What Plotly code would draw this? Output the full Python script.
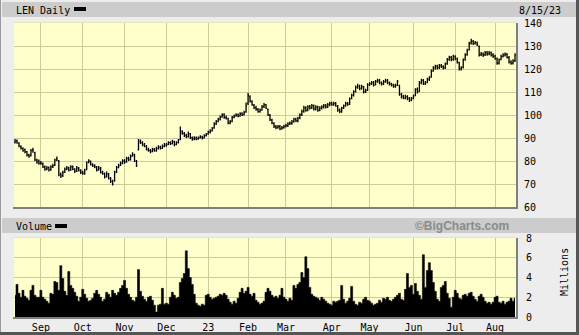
import plotly.graph_objects as go
import pandas as pd

# ---------------- data ----------------
holidays = ["2022-09-05", "2022-11-24", "2022-12-26", "2023-01-02", "2023-01-16",
            "2023-02-20", "2023-04-07", "2023-05-29", "2023-06-19", "2023-07-04"]
dates = pd.bdate_range("2022-08-15", "2023-08-15", freq="C", holidays=holidays)

close = [
    # Aug
    88.5, 88, 86.5, 85.5, 84.5, 84, 82.5, 82, 84.5, 84.8, 80.5, 79.5, 79,
    # Sep
    79, 77.5, 76.5, 77, 76, 77.5, 78, 80.5, 81, 74, 73.5, 75, 76.5, 77, 76, 77.5, 76.5, 75.5, 77, 76, 75,
    # Oct
    74.5, 76, 79.5, 80, 78.5, 78, 77.5, 76, 77, 75, 74.5, 73, 74.5, 72.5, 71, 70, 75, 77, 78, 79, 80,
    # Nov
    79.5, 81, 80.5, 82, 83, 80, 78, 88.5, 88, 87, 86.5, 85, 84.5, 84, 85, 84.5, 85.5, 86, 85.5, 86.5, 87,
    # Dec
    87, 88, 87.5, 88.5, 87, 88, 89, 93, 92, 91, 90.5, 92, 90, 89.5, 90, 89.5, 90, 90.5, 90, 91, 91.5,
    # Jan
    92.5, 93, 94, 96, 97, 98, 99, 100, 99, 98.5, 96.5, 97, 99, 99.5, 100, 99.5, 100.5, 100, 101, 104,
    # Feb
    108.5, 106, 104.5, 103, 102.5, 101.5, 102, 103.5, 104.5, 103, 100, 98, 96.5, 95, 94.5, 95, 94, 94.5, 95,
    # Mar
    95.5, 96, 96.5, 97, 98, 97.5, 98.5, 100, 101.5, 103, 102, 103.5, 103, 104, 102.5, 103.5, 102, 103, 103.5, 104, 103.5, 104.5, 105,
    # Apr
    104.5, 105, 104, 102, 101.5, 103, 104, 105, 104.5, 107, 108.5, 110, 112, 112.5, 111.5, 112.5, 110, 110.5, 113,
    # May
    113.5, 114, 113, 114.5, 115, 114, 113.5, 114.5, 115, 114, 113.5, 113, 112.5, 113, 114.5, 109, 108, 107.5, 108, 107, 106.5, 107,
    # Jun
    108, 111, 110, 114, 115, 113.5, 114, 115.5, 116, 119, 120.5, 121, 120.5, 121.5, 121, 120.5, 122, 124, 125, 124, 125.5,
    # Jul
    124.5, 123, 120, 120.5, 124, 126, 128, 131, 132, 131, 131.5, 130.5, 126, 126.5, 126, 127, 126.5, 127, 126, 125.5,
    # Aug
    124.5, 122.5, 124, 125.5, 126, 126.5, 125, 123, 122.5, 123.5, 126,
]

open_ = [
    88, 88.8, 87.8, 86.2, 85.4, 84.8, 84, 82.6, 82.4, 84.6, 83.5, 80.4, 79.8,
    79.2, 78.8, 77.4, 76.6, 77.2, 76.2, 77.4, 78.2, 80.4, 80, 74.2, 73.6, 75.2, 76.4, 77, 76.2, 77.4, 76.4, 75.6, 76.8, 75.8,
    75, 74.6, 76.4, 79.4, 79.6, 78.4, 78, 77.4, 76.2, 76.8, 75, 74.4, 73.2, 74.2, 72.4, 71.2, 71.5, 75.4, 77.2, 78.2, 79,
    80.2, 79.6, 81.2, 80.6, 82.2, 82.6, 79.8, 85, 88.6, 88, 87.2, 86.4, 85, 84.6, 84.2, 85, 84.6, 85.4, 86, 85.6, 86.4,
    86.8, 87.2, 88, 87.6, 88.4, 87.2, 88, 89.4, 92.6, 92, 91.2, 90.6, 91.8, 90.2, 89.6, 90, 89.6, 90.2, 90.4, 90.2, 91,
    91.8, 92.6, 93.2, 94.4, 96.2, 97.2, 98.2, 99.2, 100.2, 99, 98.4, 96.6, 97.2, 99, 99.6, 100, 99.6, 100.6, 100.2, 101.4,
    105, 108, 105.8, 104.2, 103.2, 102.4, 101.6, 102.2, 103.6, 104.4, 102.4, 99.8, 97.8, 96.4, 95, 94.6, 95, 94.2, 94.6,
    95.2, 95.4, 96.2, 96.4, 97.2, 98.2, 97.4, 98.8, 100.2, 101.6, 103.2, 102.2, 103.6, 103.2, 104, 102.6, 103.4, 102.2, 103, 103.4, 104.2, 103.4, 104.4,
    105.2, 104.4, 105, 103.8, 102.2, 101.6, 103, 104, 105, 104.8, 107.2, 108.6, 110.2, 112, 112.6, 111.6, 112, 110.2, 110.8,
    113.2, 113.6, 114.2, 113.2, 114.6, 115, 114, 113.6, 114.4, 115, 114.2, 113.4, 113, 112.4, 113, 112.8, 109, 108.2, 107.4, 108, 107.2, 106.4,
    107.2, 108.6, 111.2, 110.4, 114, 115, 113.6, 114.2, 115.4, 116.6, 119.2, 120.4, 121.2, 120.6, 121.6, 121, 120.6, 122.4, 124.2, 125, 124.2,
    125.4, 124.4, 122.6, 120.2, 120.8, 124.2, 126.2, 128.4, 131.2, 132, 131.2, 131.4, 129.8, 126.2, 126.6, 126.2, 127, 126.6, 127, 126.2,
    125.6, 124.4, 122.6, 124.2, 125.4, 126, 126.4, 125, 123, 122.6, 123.6,
]

high = [
    89.6, 89.4, 88.2, 86.8, 86, 85.4, 84.4, 83.2, 85.2, 85.8, 84, 81, 80.6,
    80, 79.4, 78, 77.8, 77.6, 78.2, 78.8, 81, 82, 80.4, 75, 75.8, 77.2, 77.8, 77.5, 78.2, 78, 76.8, 77.8, 77.4, 76.4,
    75.8, 76.6, 79.8, 80.8, 80.2, 79, 78.6, 77.8, 77.8, 77.4, 75.8, 75, 75.4, 74.8, 73, 71.8, 75.8, 77.8, 78.8, 79.8, 80.8,
    80.8, 81.8, 81.8, 82.8, 83.8, 83.2, 80.4, 89.6, 89.4, 88.6, 87.8, 87, 85.8, 85.2, 85.8, 85.6, 86.2, 86.8, 86.6, 87.2, 87.8,
    87.8, 88.6, 88.6, 89.2, 88.8, 88.6, 89.6, 95, 93.4, 92.6, 91.8, 92.8, 92.2, 90.6, 90.8, 90.6, 90.6, 91.2, 91, 91.6, 92.2,
    93.2, 93.8, 94.8, 96.8, 97.8, 98.8, 99.8, 100.8, 100.8, 99.8, 98.8, 97.8, 99.6, 100.2, 100.8, 100.6, 101.2, 101.2, 101.8, 105.4,
    109.6, 108.6, 106.4, 104.8, 104, 103, 102.8, 104.4, 105.2, 104.8, 102.8, 100.4, 98.4, 96.8, 95.6, 95.6, 95.6, 95.2, 95.8,
    96.2, 96.8, 97.2, 97.8, 98.8, 98.8, 99.2, 100.8, 102.4, 104, 103.8, 104.2, 104.4, 104.8, 104.6, 104.2, 104, 103.8, 104.2, 104.8, 104.8, 105.2, 105.8,
    105.8, 105.8, 105.6, 104.4, 102.8, 103.6, 104.6, 105.8, 105.6, 107.6, 109.2, 110.8, 112.8, 113.6, 113.2, 113.2, 112.6, 111.4, 113.8,
    114.2, 114.8, 114.8, 115.2, 115.8, 115.6, 114.6, 115.2, 115.8, 115.6, 114.6, 114, 113.6, 113.6, 115.2, 113.2, 109.6, 108.8, 108.8, 108.6, 107.8, 107.8,
    108.8, 111.6, 112, 114.8, 115.8, 115.6, 114.8, 116.2, 116.8, 119.8, 121.2, 121.8, 121.8, 122.2, 122.2, 121.6, 122.8, 124.8, 125.8, 125.6, 126.2,
    126, 125, 123.2, 121.2, 124.6, 126.8, 128.8, 131.8, 133.2, 132.6, 132.2, 132, 130.2, 127.4, 127.2, 127.8, 127.8, 127.8, 127.6, 126.8,
    126.2, 125, 124.6, 126.2, 126.8, 127.2, 127, 125.6, 123.8, 124.2, 126.8,
]

low = [
    87.6, 87.5, 86, 85, 84, 83.4, 82, 81.4, 82, 83.6, 80, 78.8, 78.4,
    78.4, 77, 75.8, 76, 75.4, 75.8, 77, 77.8, 80, 73.4, 72.6, 73, 74.8, 76, 75.4, 75.8, 76, 74.8, 75.2, 75.4, 74.4,
    74, 74, 76, 79, 78, 77.4, 76.8, 75.4, 75.8, 74.6, 74, 72.4, 72.8, 72, 70.4, 69.4, 71, 74.8, 76.8, 77.8, 78.6,
    78.8, 79.2, 80, 80.2, 81.8, 79.6, 77.4, 84.6, 87.4, 86.4, 86, 84.6, 84, 83.4, 83.8, 84, 84, 85, 85, 85.2, 86,
    86.2, 86.8, 87, 87.2, 86.4, 86.8, 87.6, 89, 91.4, 90.4, 90, 90.2, 89.6, 88.8, 89, 89, 89.2, 89.8, 89.4, 89.8, 90.6,
    91.4, 92, 92.8, 94, 95.6, 96.8, 97.6, 98.8, 98.4, 98, 96, 96, 96.8, 98.6, 99.2, 99, 99.2, 99.6, 99.8, 101,
    104.4, 105.4, 104, 102.6, 101.8, 101, 101, 101.8, 103, 102.6, 99.6, 97.4, 96, 94.4, 93.8, 94, 93.4, 93.6, 94,
    94.6, 94.8, 95.6, 95.8, 96.6, 97, 96.8, 98.2, 99.6, 101, 101.4, 101.6, 102.4, 102.6, 102, 102, 101.4, 101.6, 102.4, 102.8, 102.8, 103, 103.8,
    104, 104, 103.6, 101.4, 100.8, 101, 102.6, 103.6, 104, 104.4, 106.8, 108, 109.8, 111.4, 110.8, 111, 109.4, 109.6, 110.4,
    112.6, 113, 112.4, 112.8, 114, 113.4, 112.8, 113, 114, 113.4, 112.8, 112.4, 111.8, 111.8, 112.6, 108.4, 107.2, 106.8, 106.8, 106.4, 105.6, 106,
    106.8, 108.2, 109.4, 110, 113.4, 113, 113, 113.8, 114.8, 116.2, 118.8, 119.8, 119.8, 120, 120.4, 119.8, 120, 121.8, 123.6, 123.4, 123.6,
    123.8, 122.4, 119.4, 119.4, 120.2, 123.6, 125.8, 128, 130.6, 130.4, 130.6, 130, 125.4, 125.6, 125.2, 125.6, 125.8, 126, 125.4, 124.8,
    124, 121.8, 122, 123.8, 125, 125.4, 124.6, 122.4, 121.8, 122, 123,
]

volume_m = [
    2.2, 3.3, 2.4, 2.0, 2.7, 2.1, 1.9, 1.7, 2.7, 3.2, 2.2, 2.0, 2.0,
    2.7, 2.0, 1.8, 1.6, 1.4, 2.4, 2.3, 3.6, 3.5, 2.7, 5.2, 3.9, 2.6, 2.2, 4.6, 3.2, 2.9, 2.5, 2.1, 1.6, 2.0,
    2.8, 2.3, 1.9, 1.6, 1.7, 1.9, 2.4, 2.7, 2.3, 2.0, 1.6, 1.8, 2.5, 2.3, 2.0, 2.7, 2.4, 2.2, 2.5, 2.9, 3.2,
    3.7, 2.9, 2.3, 2.0, 1.7, 1.6, 2.0, 4.8, 2.6, 2.1, 1.8, 1.6, 2.0, 2.1, 1.7, 1.2, 0.5, 1.2, 1.3, 2.9, 1.3,
    1.4, 1.3, 2.0, 2.5, 2.2, 1.9, 2.0, 3.5, 3.9, 4.4, 6.7, 4.9, 4.0, 3.3, 2.3, 1.4, 1.2, 1.1, 1.3, 1.2, 2.2,
    2.3, 2.0, 1.8, 1.9, 2.0, 2.1, 2.3, 2.2, 2.4, 2.2, 1.8, 1.5, 1.3, 1.6, 1.4, 1.9, 2.5, 2.9, 2.4, 2.6,
    3.0, 2.3, 2.1, 2.4, 1.7, 1.5, 1.3, 1.4, 1.6, 2.5, 2.9, 2.6, 2.2, 2.0, 2.1, 1.9, 2.2, 2.9, 2.0,
    1.8, 1.6, 1.9, 1.7, 3.2, 2.9, 3.3, 3.5, 4.5, 4.0, 6.1, 4.9, 3.0, 2.3, 2.1, 2.0, 1.9, 1.7, 2.0, 1.8, 1.6, 1.4, 1.3,
    1.2, 1.6, 1.5, 1.6, 1.7, 3.2, 1.8, 1.4, 1.6, 1.9, 3.1, 1.6, 1.3, 1.2, 1.5, 1.4, 1.8, 2.0, 1.7,
    1.6, 1.4, 1.2, 1.3, 1.4, 1.7, 1.5, 1.9, 1.8, 2.0, 1.7, 1.6, 1.8, 2.0, 2.2, 2.4, 1.8, 1.7, 2.8, 4.4, 3.0, 3.2,
    2.3, 3.4, 2.6, 2.2, 1.8, 6.3, 3.0, 4.7, 5.5, 4.7, 3.5, 2.6, 1.8, 1.6, 3.0, 3.2, 3.6, 2.4, 1.9, 1.0, 2.0,
    2.7, 2.4, 1.9, 1.8, 2.2, 2.3, 2.1, 2.4, 2.5, 2.1, 1.8, 1.6, 2.1, 2.3, 2.0, 1.6, 1.4, 1.5, 1.3, 1.5,
    2.0, 2.1, 1.5, 1.4, 1.6, 1.3, 1.5, 1.6, 1.9, 1.6, 1.9,
]

price_ticks = [60, 70, 80, 90, 100, 110, 120, 130, 140]
volume_ticks = [0, 2, 4, 6, 8]

n = len(dates)
assert len(close) == n and len(open_) == n and len(high) == n and len(low) == n and len(volume_m) == n

pos = list(range(n))
month_idx = [i for i in range(1, n) if dates[i].month != dates[i - 1].month]
month_txt = ["23" if dates[i].month == 1 else dates[i].strftime("%b") for i in month_idx]

# ---------------- geometry (pixels) ----------------
W, H = 579, 335
PL, PR, PT, PB = 14, 516, 23, 317
VT = 238      # volume panel top
PRB = 207     # price panel bottom
pw, ph = PR - PL, PB - PT


def fx(px):
    return (px - PL) / pw


def fy(py):
    return (PB - py) / ph


MONO = "DejaVu Sans Mono"
GRID = "#CCCC99"
PLOTBG = "#FFFFCC"
PAGEBG = "#EDEDED"
BARBG = "#CCCCCC"

fig = go.Figure()
fig.add_trace(go.Ohlc(
    x=pos, open=open_, high=high, low=low, close=close,
    xaxis="x", yaxis="y",
    increasing=dict(line=dict(color="black", width=1.3)),
    decreasing=dict(line=dict(color="black", width=1.3)),
    tickwidth=0.45, showlegend=False, hoverinfo="skip",
))
fig.add_trace(go.Scatter(
    x=pos, y=volume_m, xaxis="x2", yaxis="y2",
    mode="lines", line=dict(color="black", width=0.6, shape="hvh"),
    fill="tozeroy", fillcolor="black",
    showlegend=False, hoverinfo="skip",
))

axis_common = dict(showgrid=True, gridcolor=GRID, gridwidth=1, zeroline=False,
                   showline=False, ticks="", fixedrange=True, automargin=False)

fig.update_layout(
    template="none",
    width=W, height=H,
    margin=dict(l=PL, r=W - PR, t=PT, b=H - PB, pad=0, autoexpand=False),
    paper_bgcolor=PAGEBG, plot_bgcolor=PLOTBG,
    font=dict(family=MONO, size=10, color="black"),
    showlegend=False,
    xaxis=dict(domain=[0, 1], anchor="y", range=[-0.5, n - 0.5],
               tickvals=month_idx, showticklabels=False,
               rangeslider=dict(visible=False), **axis_common),
    yaxis=dict(domain=[fy(PRB), 1], anchor="x", range=[60, 140], side="right",
               tickvals=price_ticks, ticklabelstandoff=7,
               tickfont=dict(family=MONO, size=10, color="black"), **axis_common),
    xaxis2=dict(domain=[0, 1], anchor="y2", range=[-0.5, n - 0.5],
                tickvals=month_idx, ticktext=month_txt, ticklabelstandoff=3,
                tickfont=dict(family=MONO, size=10, color="black"), **axis_common),
    yaxis2=dict(domain=[0, fy(VT)], anchor="x2", range=[0, 8], side="right",
                tickvals=volume_ticks, ticklabelstandoff=9,
                tickfont=dict(family=MONO, size=10, color="black"), **axis_common),
)

shapes = []
# header bars
for (y0, y1) in [(2, 17), (218, 233)]:
    shapes.append(dict(type="rect", xref="paper", yref="paper",
                       x0=fx(2), x1=fx(576), y0=fy(y1), y1=fy(y0),
                       fillcolor=BARBG, line=dict(width=0), layer="below"))
# legend swatches
shapes.append(dict(type="rect", xref="paper", yref="paper",
                   x0=fx(74), x1=fx(86), y0=fy(11), y1=fy(7),
                   fillcolor="black", line=dict(width=0)))
shapes.append(dict(type="rect", xref="paper", yref="paper",
                   x0=fx(55), x1=fx(67), y0=fy(228), y1=fy(224),
                   fillcolor="black", line=dict(width=0)))
# panel edge shading (dark bottom/right, light top/left)
for (top, bot) in [(PT, PRB), (VT, PB)]:
    shapes.append(dict(type="line", xref="paper", yref="paper",
                       x0=fx(PL - 1), x1=fx(PR + 1), y0=fy(bot + 1), y1=fy(bot + 1),
                       line=dict(color="#7F7F7F", width=2)))
    shapes.append(dict(type="line", xref="paper", yref="paper",
                       x0=fx(PR + 1), x1=fx(PR + 1), y0=fy(bot + 2), y1=fy(top),
                       line=dict(color="#7F7F7F", width=2)))
    shapes.append(dict(type="line", xref="paper", yref="paper",
                       x0=fx(PL - 0.5), x1=fx(PR), y0=fy(top - 0.5), y1=fy(top - 0.5),
                       line=dict(color="#E6E6B0", width=1)))
# outer frame
shapes.append(dict(type="line", xref="paper", yref="paper",
                   x0=fx(0.5), x1=fx(0.5), y0=fy(0), y1=fy(335),
                   line=dict(color="#9A9A9A", width=1)))
shapes.append(dict(type="line", xref="paper", yref="paper",
                   x0=fx(577.5), x1=fx(577.5), y0=fy(0), y1=fy(335),
                   line=dict(color="#555555", width=3)))
shapes.append(dict(type="line", xref="paper", yref="paper",
                   x0=fx(0), x1=fx(579), y0=fy(333.5), y1=fy(333.5),
                   line=dict(color="#555555", width=3)))
fig.update_layout(shapes=shapes)

ann = [
    dict(text="LEN Daily", x=fx(14), y=fy(10), xanchor="left", yanchor="middle"),
    dict(text="8/15/23", x=fx(563), y=fy(10), xanchor="right", yanchor="middle"),
    dict(text="Volume", x=fx(14), y=fy(226), xanchor="left", yanchor="middle"),
    dict(text="<b>©BigCharts.com</b>", x=fx(511), y=fy(226), xanchor="right", yanchor="middle",
         font=dict(family="Liberation Sans", size=12, color="#8A8A8A")),
    dict(text="Millions", x=fx(564), y=fy(272), xanchor="center", yanchor="middle", textangle=-90),
]
for a in ann:
    a.update(xref="paper", yref="paper", showarrow=False)
    a.setdefault("font", dict(family=MONO, size=10, color="black"))
fig.update_layout(annotations=ann)

fig.write_html("out.html")
